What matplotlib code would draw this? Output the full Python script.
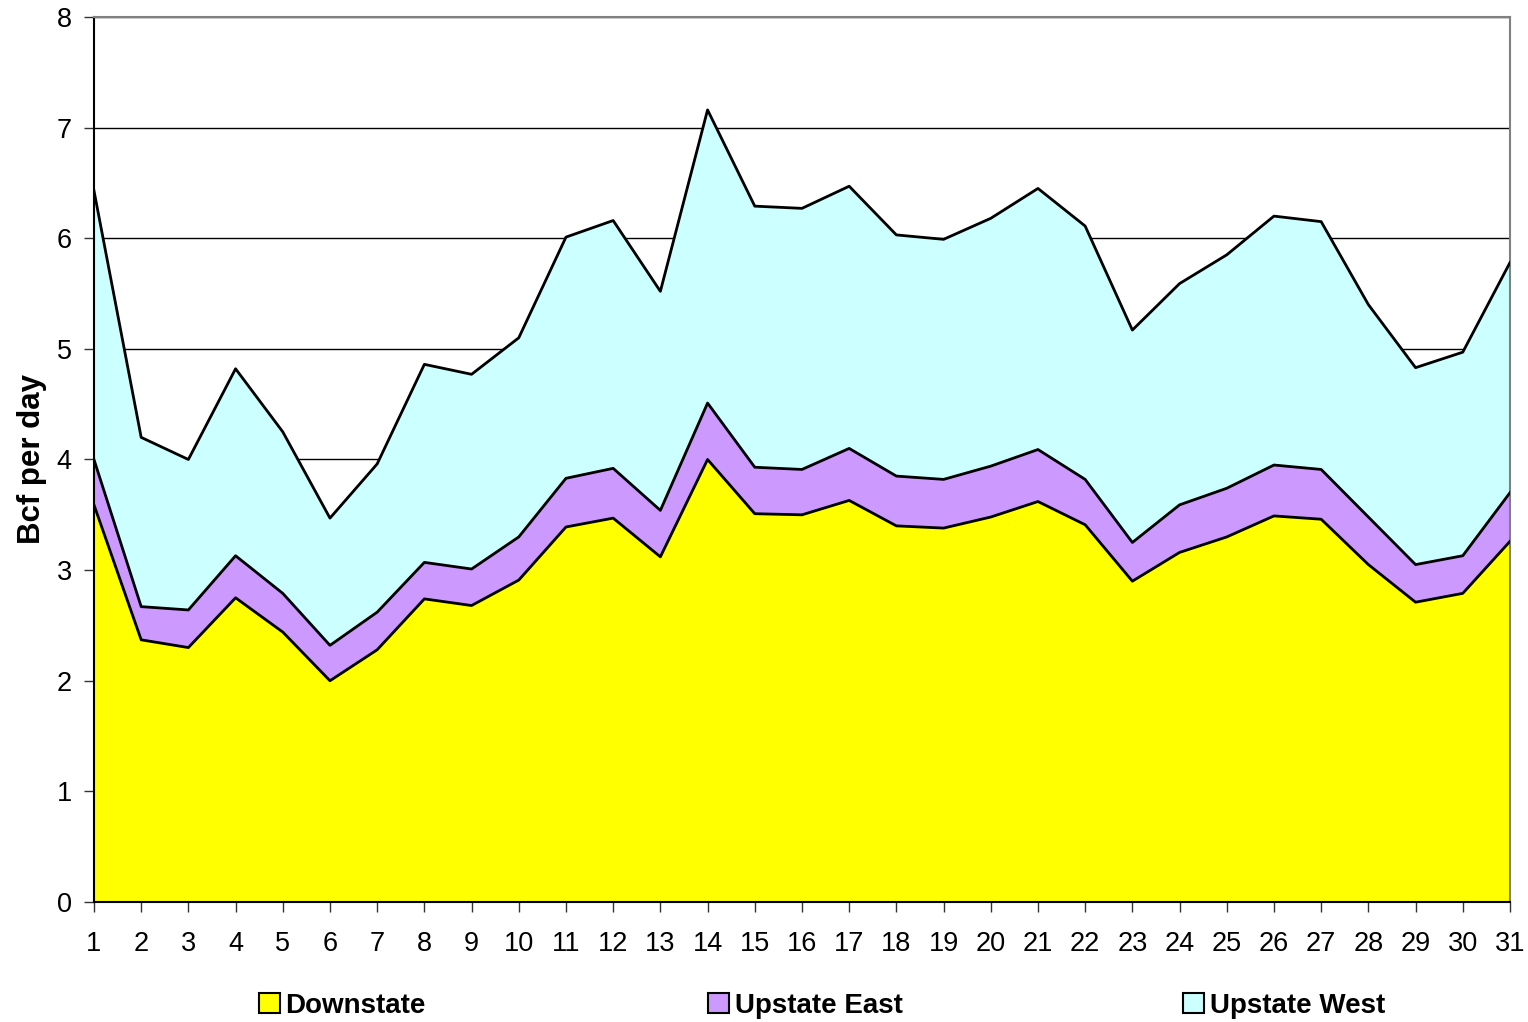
import numpy as np
import matplotlib.pyplot as plt
from matplotlib.patches import Patch

# Day of month
days = np.arange(1, 32)

# Daily flows, Bcf per day
downstate = [3.59, 2.37, 2.30, 2.75, 2.44, 2.00, 2.28, 2.74, 2.68, 2.91,
             3.39, 3.47, 3.12, 4.00, 3.51, 3.50, 3.63, 3.40, 3.38, 3.48,
             3.62, 3.41, 2.90, 3.16, 3.30, 3.49, 3.46, 3.05, 2.71, 2.79, 3.26]
upstate_east = [0.41, 0.30, 0.34, 0.38, 0.35, 0.32, 0.34, 0.33, 0.33, 0.39,
                0.44, 0.45, 0.42, 0.51, 0.42, 0.41, 0.47, 0.45, 0.44, 0.46,
                0.47, 0.41, 0.35, 0.43, 0.44, 0.46, 0.45, 0.43, 0.34, 0.34, 0.44]
upstate_west = [2.43, 1.53, 1.36, 1.69, 1.46, 1.15, 1.34, 1.79, 1.76, 1.80,
                2.18, 2.24, 1.98, 2.65, 2.36, 2.36, 2.37, 2.18, 2.17, 2.24,
                2.36, 2.29, 1.92, 2.00, 2.11, 2.25, 2.24, 1.92, 1.78, 1.84, 2.08]

labels = ["Downstate", "Upstate East", "Upstate West"]
colors = ["#FFFF00", "#CC99FF", "#CCFFFF"]

plt.rcParams["font.family"] = ["Liberation Sans", "DejaVu Sans"]

fig = plt.figure(figsize=(15.28, 10.22), dpi=100)
ax = fig.add_axes([0.0615, 0.1174, 0.9267, 0.866])

series = [np.array(downstate), np.array(upstate_east), np.array(upstate_west)]
base = np.zeros(len(days))
for vals, col in zip(series, colors):
    top = base + vals
    ax.fill_between(days, base, top, facecolor=col, edgecolor="none", zorder=2)
    ax.plot(days, top, color="black", lw=2, zorder=3)
    base = top

ax.set_xlim(1, 31)
ax.set_ylim(0, 8)
ax.set_xticks(days)
ax.set_yticks(range(0, 9))
ax.yaxis.grid(True, color="black", lw=1)
ax.set_axisbelow(True)
ax.tick_params(axis="both", direction="out", length=7, width=1,
               labelsize=19.5, color="#333333")
ax.tick_params(axis="x", pad=14)
ax.tick_params(axis="y", pad=9)
for s in ["top", "right"]:
    ax.spines[s].set_color("#808080")
    ax.spines[s].set_linewidth(1.5)
ax.spines["left"].set_linewidth(1.5)
ax.spines["bottom"].set_linewidth(1.5)
ax.set_ylabel("Bcf per day", fontsize=22.5, fontweight="bold")
ax.yaxis.set_label_coords(-0.0335, 0.5)

# Legend: three separate entries spread along the bottom
xpos = [256, 705, 1180]
for lab, col, x in zip(labels, colors, xpos):
    h = Patch(facecolor=col, edgecolor="black", lw=1.5)
    fig.legend([h], [lab], loc="center left",
               bbox_to_anchor=(x / 1528 - 0.007, 1 - 1006 / 1022),
               frameon=False, handlelength=0.75, handleheight=0.75,
               handletextpad=0.2, borderpad=0,
               prop={"size": 20, "weight": "bold"})

fig.savefig("out.png", dpi=100)
